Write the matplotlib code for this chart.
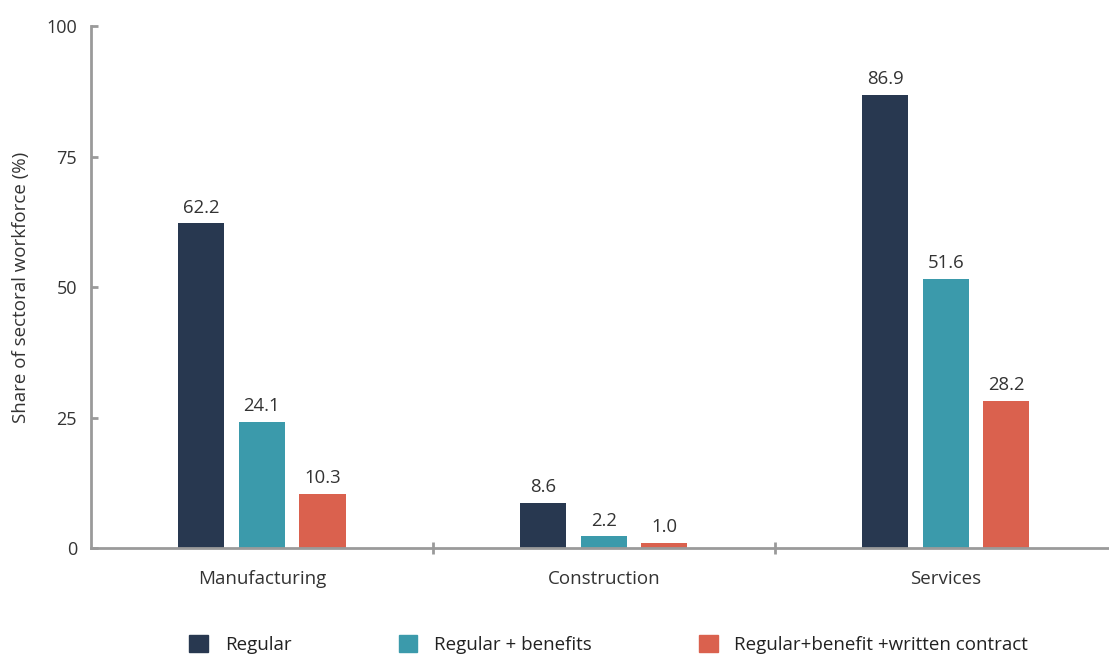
import matplotlib.pyplot as plt
import numpy as np
from matplotlib.patches import Patch

plt.rcParams['font.family'] = ['Open Sans', 'DejaVu Sans']

sectors = ['Manufacturing', 'Construction', 'Services']
series = ['Regular', 'Regular + benefits', 'Regular+benefit +written contract']
regular = [62.2, 8.6, 86.9]
benefits = [24.1, 2.2, 51.6]
contract = [10.3, 1.0, 28.2]
colors = ['#283850', '#3b9aab', '#da614e']

fig = plt.figure(figsize=(11.09, 6.57), dpi=100)
ax = fig.add_axes([0.082, 0.166, 0.925, 0.794])

x = np.arange(len(sectors))
w = 0.135
off = 0.177
for i, vals in enumerate([regular, benefits, contract]):
    pos = x + (i - 1) * off
    ax.bar(pos, vals, width=w, color=colors[i], zorder=2)
    for px, v in zip(pos, vals):
        ax.text(px, v + 1.3, '%.1f' % v, ha='center', va='bottom',
                fontsize=13.3, color='#333333')

ax.set_xlim(-0.5, 2.5)
ax.set_ylim(0, 100)
ax.set_yticks([0, 25, 50, 75, 100])
ax.set_xticks(x)
ax.set_xticklabels(sectors)
ax.set_xticks([0.5, 1.5], minor=True)

for s in ['top', 'right']:
    ax.spines[s].set_visible(False)
for s in ['left', 'bottom']:
    ax.spines[s].set_color('#9a9a9a')
    ax.spines[s].set_linewidth(2)

ax.tick_params(axis='y', direction='in', length=5, width=2, color='#9a9a9a',
               labelsize=13, labelcolor='#333333', pad=10)
ax.tick_params(axis='x', which='major', length=0, labelsize=13.5,
               labelcolor='#333333', pad=16)
ax.tick_params(axis='x', which='minor', direction='inout', length=8, width=2,
               color='#9a9a9a')

ax.set_ylabel('Share of sectoral workforce (%)', fontsize=13.5, color='#333333',
              labelpad=12)

handles = [Patch(color=c) for c in colors]
fig.legend(handles, series, loc='center', bbox_to_anchor=(0.549, 0.019),
           ncol=3, frameon=False, fontsize=13.5, handlelength=1.0,
           handleheight=1.0, handletextpad=0.9, columnspacing=5.7,
           labelcolor='#222222')

fig.savefig('out.png', dpi=100)
